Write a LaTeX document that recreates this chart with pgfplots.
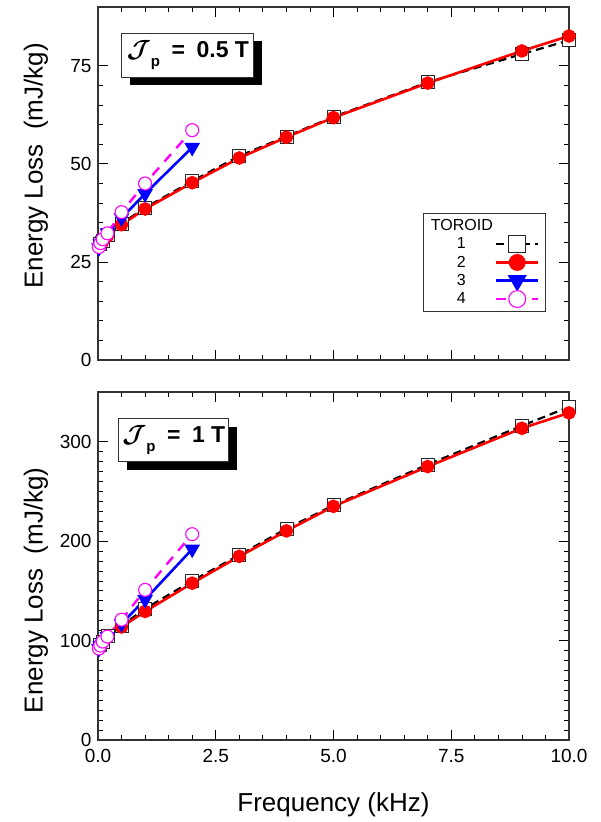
\documentclass[border=0pt]{standalone}
\usepackage{fontspec}
\setmainfont{Liberation Sans}
\usepackage{bm}
\usepackage{pgfplots}
\pgfplotsset{compat=1.18}
\usetikzlibrary{shadows}

\definecolor{cRed}{RGB}{255,0,0}
\definecolor{cBlue}{RGB}{0,0,255}
\definecolor{cMag}{RGB}{255,0,255}

\pgfplotsset{
  common/.style={
    scale only axis, width=471pt,
    xmin=0, xmax=10,
    xtick={0,2.5,5,7.5,10}, minor x tick num=4,
    tick pos=both, tick align=inside,
    major tick length=10pt, minor tick length=5pt,
    every tick/.style={black, line width=0.8pt},
    axis line style={black!80, line width=1.3pt},
    /pgf/number format/assume math mode=true,
    tick label style={font=\fontsize{19}{22}\selectfont},
    yticklabel style={xshift=-3pt},
    xticklabel style={yshift=-6pt, /pgf/number format/.cd, fixed, fixed zerofill, precision=1},
    s1/.style={black, line width=2.2pt, dash pattern=on 8pt off 5pt, mark=square*, mark size=6.5pt, mark options={solid, fill=white, line width=0.8pt, draw=black!85}},
    s2/.style={cRed, line width=2.6pt, mark=*, mark size=5.5pt, mark options={solid, fill=cRed}},
    s3/.style={cBlue, line width=2.6pt, mark=triangle*, mark size=6.5pt, mark options={solid, rotate=180, fill=cBlue}},
    s4/.style={cMag, line width=2.4pt, dash pattern=on 10pt off 8pt, mark=*, mark size=6.5pt, mark options={solid, fill=white, draw=cMag, line width=1.1pt}},
  },
  legend image code/.code={\draw[mark repeat=2,mark phase=2,#1,every mark/.append style={scale=1.3}] plot coordinates {(0pt,0pt) (21pt,0pt) (42pt,0pt)};},
}
\newcommand{\Jp}{{\boldmath$\mathcal{J}$}\raisebox{-0.4em}{\fontsize{15}{15}\selectfont p}}

\begin{document}
\begin{tikzpicture}
\path[use as bounding box] (-98pt,-82pt) rectangle (503pt,740pt);

% ---------- top panel ----------
\begin{axis}[common, height=353pt, at={(0pt,380pt)},
  ymin=0, ymax=90, ytick={0,25,50,75}, minor y tick num=4,
  xticklabels={},
  ylabel={Energy Loss\ \ (mJ/kg)},
  every axis y label/.style={at={(axis description cs:-0.132,0.55)}, rotate=90, anchor=center, font=\fontsize{26}{30}\selectfont},
  legend plot pos=right,
  legend cell align=left,
  legend style={at={(axis description cs:0.951,0.416)}, anchor=north east,
    font=\fontsize{16}{18}\selectfont, draw=black!80, line width=0.8pt,
    row sep=1.5pt, inner xsep=6pt, inner ysep=4pt},
]
\addlegendimage{empty legend}
\addlegendentry{TOROID}
\addplot[s1] coordinates {(0.05,29.5) (0.1,30.3) (0.2,31.8) (0.5,34.8) (1,38.8) (2,45.6) (3,52.0) (4,57.0) (5,62.0) (7,70.8) (9,78.0) (10,81.5)};
\addlegendentry{\hspace{26pt}1}
\addplot[s2] coordinates {(0.05,29.5) (0.1,30.2) (0.2,31.6) (0.5,34.5) (1,38.5) (2,45.2) (3,51.5) (4,56.8) (5,61.8) (7,70.6) (9,78.8) (10,82.6)};
\addlegendentry{\hspace{26pt}2}
\addplot[s3] coordinates {(0.02,28.6) (0.05,29.6) (0.1,30.5) (0.2,32.4) (0.5,36.2) (1,42.4) (2,54.2)};
\addlegendentry{\hspace{26pt}3}
\addplot[s4] coordinates {(0.02,28.8) (0.05,29.8) (0.1,30.8) (0.2,32.3) (0.5,37.7) (1,45.0) (2,58.6)};
\addlegendentry{\hspace{26pt}4}
\node[draw=black!80, line width=1pt, fill=white, minimum width=132pt, minimum height=44pt,
  drop shadow={shadow xshift=8pt, shadow yshift=-8pt, fill=black, opacity=1}]
  at (axis description cs:0.191,0.864)
  {\fontsize{23}{26}\selectfont\bfseries \Jp\enspace=\enspace0.5 T};
\end{axis}

% ---------- bottom panel ----------
\begin{axis}[common, height=348pt, at={(0pt,0pt)},
  ymin=0, ymax=350, ytick={0,100,200,300}, minor y tick num=9,
  ylabel={Energy Loss\ \ (mJ/kg)},
  every axis y label/.style={at={(axis description cs:-0.132,0.43)}, rotate=90, anchor=center, font=\fontsize{26}{30}\selectfont},
  xlabel={Frequency (kHz)},
  every axis x label/.style={at={(axis description cs:0.5,-0.187)}, anchor=center, font=\fontsize{26}{30}\selectfont},
]
\addplot[s1] coordinates {(0.05,96) (0.1,99) (0.2,104.5) (0.5,115) (1,132) (2,160) (3,186) (4,212.5) (5,236) (7,277) (9,316) (10,335)};
\addplot[s2] coordinates {(0.05,96) (0.1,99) (0.2,104) (0.5,113.7) (1,129.3) (2,157.7) (3,184.7) (4,210.3) (5,235) (7,275) (9,313.5) (10,329)};
\addplot[s3] coordinates {(0.02,92) (0.05,95) (0.1,98) (0.2,104) (0.5,117) (1,141.3) (2,192)};
\addplot[s4] coordinates {(0.02,92) (0.05,95) (0.1,99) (0.2,104) (0.5,121) (1,151) (2,207)};
\node[draw=black!80, line width=1pt, fill=white, minimum width=110pt, minimum height=43pt,
  drop shadow={shadow xshift=8pt, shadow yshift=-8pt, fill=black, opacity=1}]
  at (axis description cs:0.161,0.861)
  {\fontsize{23}{26}\selectfont\bfseries \Jp\enspace=\enspace1 T};
\end{axis}
\end{tikzpicture}
\end{document}
